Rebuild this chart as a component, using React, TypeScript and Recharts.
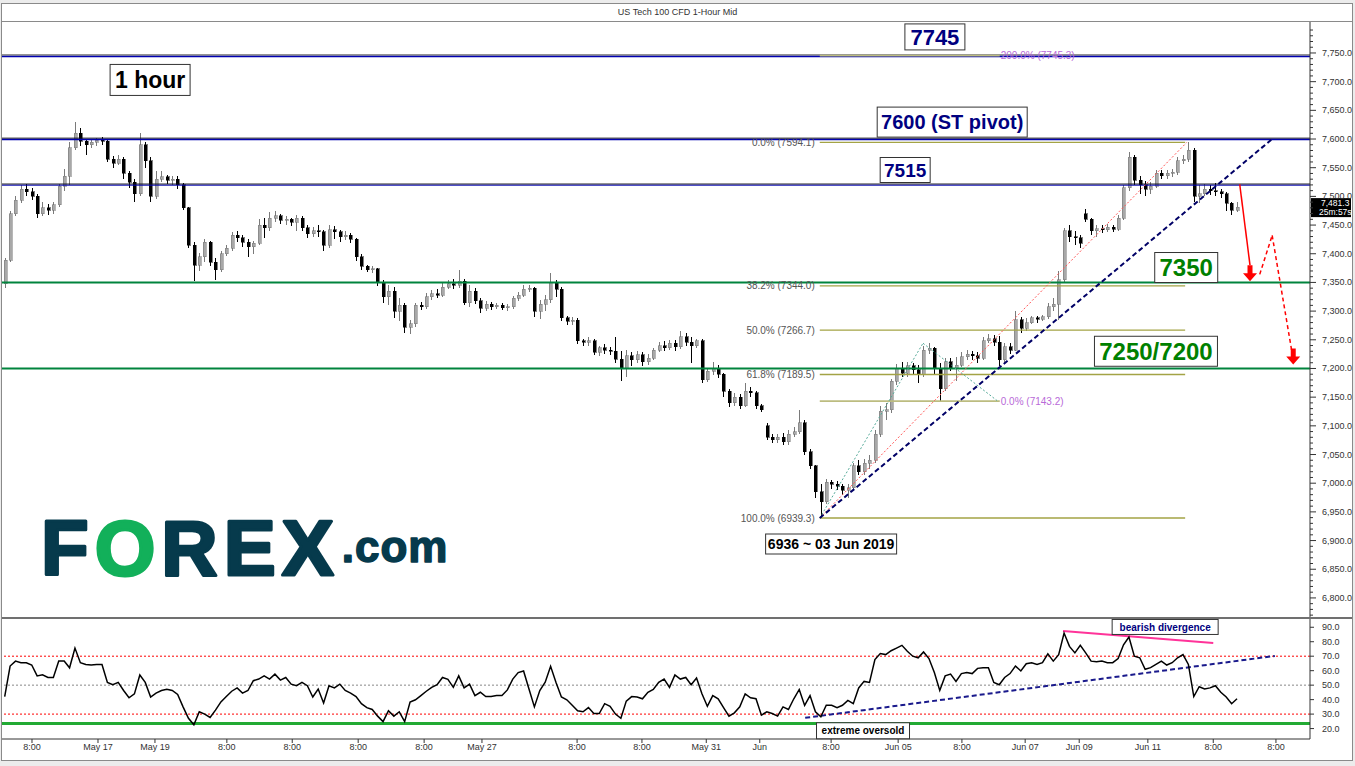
import React from "react";
import {
  ComposedChart,
  Bar,
  Line,
  XAxis,
  YAxis,
  ReferenceLine,
  ReferenceDot,
} from "recharts";

const FONT = "Arial, 'Liberation Sans', sans-serif";

// 2-hour candles: [open, high, low, close]
const candles: number[][] = [
  [7348, 7392, 7340, 7389], [7389, 7475, 7385, 7470], [7470, 7500, 7465, 7493], [7493, 7520, 7488, 7512],
  [7512, 7522, 7500, 7508], [7508, 7515, 7494, 7500], [7500, 7504, 7462, 7470], [7470, 7490, 7466, 7480],
  [7480, 7486, 7468, 7476], [7476, 7490, 7470, 7485], [7485, 7522, 7482, 7518], [7518, 7548, 7510, 7535],
  [7535, 7595, 7520, 7585], [7585, 7630, 7580, 7610], [7610, 7620, 7588, 7596], [7596, 7600, 7572, 7590],
  [7590, 7600, 7585, 7594], [7594, 7602, 7588, 7598], [7598, 7604, 7590, 7596], [7596, 7600, 7560, 7565],
  [7565, 7570, 7550, 7558], [7558, 7572, 7555, 7565], [7565, 7568, 7530, 7540], [7540, 7545, 7515, 7525],
  [7525, 7530, 7490, 7505], [7505, 7610, 7500, 7590], [7590, 7595, 7550, 7562], [7562, 7568, 7490, 7500],
  [7500, 7545, 7496, 7530], [7530, 7545, 7525, 7534], [7534, 7538, 7522, 7528], [7528, 7536, 7520, 7530],
  [7530, 7535, 7512, 7520], [7520, 7524, 7476, 7480], [7480, 7482, 7410, 7415], [7415, 7420, 7352, 7380],
  [7380, 7402, 7370, 7395], [7395, 7425, 7385, 7420], [7420, 7422, 7378, 7385], [7385, 7392, 7354, 7372],
  [7372, 7405, 7368, 7400], [7400, 7415, 7396, 7410], [7410, 7438, 7405, 7432], [7432, 7440, 7420, 7428],
  [7428, 7432, 7412, 7420], [7420, 7425, 7395, 7412], [7412, 7422, 7400, 7418], [7418, 7460, 7415, 7450],
  [7450, 7462, 7428, 7445], [7445, 7472, 7440, 7462], [7462, 7475, 7455, 7466], [7466, 7470, 7452, 7458],
  [7458, 7465, 7450, 7460], [7460, 7462, 7448, 7455], [7455, 7468, 7440, 7462], [7462, 7466, 7440, 7445],
  [7445, 7450, 7428, 7435], [7435, 7446, 7430, 7440], [7440, 7450, 7430, 7438], [7438, 7442, 7405, 7415],
  [7415, 7450, 7410, 7442], [7442, 7448, 7425, 7438], [7438, 7442, 7420, 7430], [7430, 7440, 7424, 7432],
  [7432, 7436, 7418, 7425], [7425, 7428, 7388, 7395], [7395, 7400, 7372, 7378], [7378, 7380, 7368, 7372],
  [7372, 7378, 7366, 7374], [7374, 7376, 7344, 7350], [7350, 7354, 7315, 7325], [7325, 7345, 7310, 7335],
  [7335, 7342, 7288, 7300], [7300, 7322, 7282, 7310], [7310, 7314, 7262, 7272], [7272, 7285, 7260, 7278],
  [7278, 7314, 7272, 7310], [7310, 7316, 7302, 7308], [7308, 7332, 7304, 7325], [7325, 7336, 7320, 7330],
  [7330, 7338, 7322, 7328], [7328, 7350, 7325, 7342], [7342, 7354, 7338, 7348], [7348, 7356, 7338, 7345],
  [7345, 7372, 7340, 7352], [7352, 7356, 7310, 7315], [7315, 7345, 7308, 7335], [7335, 7340, 7312, 7318],
  [7318, 7322, 7296, 7305], [7305, 7318, 7300, 7312], [7312, 7316, 7302, 7308], [7308, 7314, 7303, 7310],
  [7310, 7314, 7302, 7306], [7306, 7313, 7301, 7308], [7308, 7326, 7304, 7322], [7322, 7334, 7318, 7328],
  [7328, 7345, 7325, 7338], [7338, 7346, 7333, 7340], [7340, 7342, 7290, 7300], [7300, 7320, 7286, 7312],
  [7312, 7328, 7300, 7320], [7320, 7366, 7315, 7350], [7350, 7355, 7325, 7338], [7338, 7342, 7282, 7288],
  [7288, 7292, 7275, 7282], [7282, 7290, 7276, 7284], [7284, 7288, 7242, 7248], [7248, 7252, 7240, 7246],
  [7246, 7254, 7240, 7248], [7248, 7252, 7224, 7228], [7228, 7240, 7222, 7236], [7236, 7242, 7225, 7232],
  [7232, 7238, 7224, 7230], [7230, 7254, 7210, 7216], [7216, 7230, 7178, 7200], [7200, 7232, 7185, 7222],
  [7222, 7228, 7205, 7215], [7215, 7230, 7210, 7224], [7224, 7228, 7205, 7212], [7212, 7226, 7206, 7218],
  [7218, 7236, 7214, 7232], [7232, 7246, 7228, 7240], [7240, 7248, 7230, 7236], [7236, 7250, 7232, 7244],
  [7244, 7250, 7230, 7238], [7238, 7265, 7234, 7255], [7255, 7262, 7240, 7246], [7246, 7254, 7210, 7240],
  [7240, 7252, 7236, 7248], [7248, 7252, 7175, 7180], [7180, 7200, 7176, 7195], [7195, 7212, 7188, 7200],
  [7200, 7206, 7184, 7190], [7190, 7192, 7150, 7160], [7160, 7165, 7132, 7140], [7140, 7158, 7135, 7150],
  [7150, 7155, 7130, 7135], [7135, 7175, 7132, 7160], [7160, 7168, 7150, 7158], [7158, 7160, 7130, 7135],
  [7135, 7138, 7124, 7128], [7100, 7105, 7075, 7080], [7080, 7086, 7070, 7076], [7076, 7085, 7070, 7080],
  [7080, 7088, 7066, 7072], [7072, 7092, 7066, 7085], [7085, 7098, 7080, 7090], [7090, 7127, 7086, 7105],
  [7105, 7110, 7050, 7055], [7055, 7060, 7025, 7030], [7030, 7032, 6975, 6985], [6985, 6998, 6939, 6968],
  [6968, 7008, 6964, 7002], [7002, 7006, 6990, 6998], [6998, 7004, 6988, 6995], [6995, 6998, 6980, 6988],
  [6988, 6998, 6975, 6992], [6992, 7036, 6988, 7030], [7030, 7040, 7015, 7020], [7020, 7042, 7015, 7035],
  [7035, 7050, 7025, 7040], [7040, 7092, 7036, 7085], [7085, 7135, 7080, 7125], [7125, 7140, 7110, 7128],
  [7128, 7182, 7122, 7178], [7178, 7208, 7172, 7200], [7200, 7212, 7186, 7192], [7192, 7212, 7186, 7205],
  [7205, 7210, 7190, 7198], [7198, 7206, 7175, 7190], [7190, 7240, 7186, 7232], [7232, 7244, 7225, 7235],
  [7235, 7238, 7190, 7200], [7200, 7210, 7143, 7165], [7165, 7218, 7160, 7212], [7212, 7218, 7195, 7200],
  [7200, 7220, 7178, 7206], [7206, 7228, 7202, 7220], [7220, 7232, 7215, 7225], [7225, 7230, 7214, 7222],
  [7222, 7228, 7210, 7218], [7218, 7255, 7215, 7248], [7248, 7260, 7244, 7252], [7252, 7258, 7240, 7246],
  [7246, 7256, 7205, 7215], [7215, 7244, 7210, 7238], [7238, 7244, 7226, 7232], [7232, 7300, 7230, 7285],
  [7285, 7290, 7262, 7270], [7270, 7288, 7266, 7280], [7280, 7292, 7278, 7288], [7288, 7292, 7280, 7286],
  [7286, 7294, 7282, 7290], [7290, 7315, 7286, 7308], [7308, 7322, 7300, 7312], [7312, 7370, 7285, 7355],
  [7355, 7445, 7350, 7440], [7440, 7450, 7420, 7430], [7430, 7440, 7416, 7428], [7428, 7432, 7410, 7418],
  [7470, 7478, 7455, 7460], [7460, 7462, 7432, 7440], [7440, 7450, 7430, 7444], [7444, 7450, 7436, 7442],
  [7442, 7452, 7438, 7446], [7446, 7450, 7438, 7443], [7443, 7468, 7440, 7462], [7462, 7520, 7458, 7515],
  [7515, 7578, 7510, 7568], [7568, 7572, 7520, 7528], [7528, 7536, 7505, 7520], [7520, 7526, 7500, 7512],
  [7512, 7525, 7505, 7518], [7518, 7546, 7514, 7540], [7540, 7546, 7530, 7536], [7536, 7546, 7530, 7540],
  [7540, 7548, 7534, 7542], [7542, 7568, 7538, 7562], [7562, 7572, 7556, 7565], [7565, 7594, 7560, 7580],
  [7580, 7584, 7490, 7500], [7500, 7520, 7488, 7505], [7505, 7522, 7500, 7512], [7512, 7520, 7502, 7510],
  [7510, 7524, 7500, 7508], [7508, 7512, 7498, 7505], [7505, 7508, 7475, 7488], [7488, 7490, 7468, 7476],
  [7476, 7490, 7472, 7481],
];

const rsi = [
  42, 63.2, 66.6, 65.5, 65.5, 63.9, 56.4, 57.1, 55.3, 55.3,
  66.6, 66.6, 62, 75.6, 65.5, 64.3, 63.9, 64.3, 64.3, 51.9,
  50.3, 51.9, 46.3, 41.3, 44, 57, 51.9, 41.8, 44.5, 46.3,
  47.2, 46.3, 43.6, 35, 27.1, 22.6, 31.6, 30, 27.7, 32.7,
  38.4, 42.1, 45.8, 48.1, 44.5, 46.3, 53.1, 54.2, 56.4, 54.2,
  57.6, 53.5, 55.3, 50.7, 49.6, 51.9, 49.6, 41.8, 47.3, 37.7,
  49.6, 48.1, 50.7, 46.3, 44.5, 42.1, 37.2, 34.5, 33.2, 28.6,
  24.8, 32.3, 28.6, 31.6, 24.8, 38.4, 39.9, 42.8, 45.8, 48.5,
  50.3, 55.3, 54, 48.5, 56.4, 48.1, 50.7, 42.8, 45.1, 42.1,
  42.1, 42.8, 42.8, 46.7, 54.2, 58.7, 59.8, 47.3, 35, 46.3,
  52, 63, 51.9, 41.8, 39.9, 36.1, 32.3, 31.6, 34.5, 30.4,
  30.4, 37.2, 35.4, 30, 27.1, 39, 42.1, 41.8, 40.6, 45.1,
  47, 51.9, 54.2, 48.5, 57, 54.2, 55.3, 50.3, 54.9, 44,
  35.4, 42.8, 40.6, 34.5, 28.6, 30.9, 35, 44, 41.3, 40.6,
  29.3, 31.6, 30.4, 28.6, 35, 33.2, 40.6, 47, 36, 42.8,
  31.6, 28.2, 36.1, 36.1, 34.5, 36.1, 39.5, 37.2, 48.1, 52.6,
  51.9, 67.7, 71.8, 71.1, 73.8, 75.6, 77.5, 73.4, 70, 68.9,
  72.9, 68.4, 58.7, 46.3, 56.4, 57.6, 52.6, 58, 58.7, 58,
  61.6, 62.1, 62.1, 51.9, 50.3, 55.3, 58, 63.2, 59.8, 64.8,
  65.5, 64.3, 65.5, 71.6, 66.6, 71.1, 86, 76.8, 72.3, 77.5,
  72.3, 66.6, 66.2, 66.6, 65.5, 65.5, 68.4, 77.9, 83.3, 70,
  68.9, 61, 62.1, 64.3, 66.6, 63.9, 65.5, 68.9, 71.1, 64.3,
  42.1, 48.9, 47.3, 48.1, 49.6, 45.1, 41.8, 37.2, 40.6,
];

const timeTicks = [5.55, 17.76, 28.3, 41.6, 53.7, 65.9, 78.1, 88.8, 106.4, 118.4, 130.3, 140.2, 153.4, 165.8, 177.6, 189.3, 199.3, 212.0, 224.1, 235.7];
const timeLabels = ["8:00", "May 17", "May 19", "8:00", "8:00", "8:00", "8:00", "May 27", "8:00", "8:00", "May 31", "Jun", "8:00", "Jun 05", "8:00", "Jun 07", "Jun 09", "Jun 11", "8:00", "8:00"];

const priceTicks = Array.from({ length: 103 }, (_, k) => 6770 + k * 10);
const rsiTicks = [20, 30, 40, 50, 60, 70, 80, 90];

const fibLevels = [7594.1, 7344.0, 7266.7, 7189.5, 6939.3];
const fibNames = ["0.0%", "38.2%", "50.0%", "61.8%", "100.0%"];
const extLevels = [7745.3, 7143.2];
const extNames = ["200.0%", "0.0%"];

const lastPrice = 7481.3;

const rows = candles.map((c, i) => ({ t: i + 0.5, o: c[0], h: c[1], l: c[2], c: c[3], rsi: rsi[i] }));

const fmt = (v: number) => v.toLocaleString("en-US", { minimumFractionDigits: 1, maximumFractionDigits: 1 });

function Candle(props: any) {
  const { x, y, width, height, payload } = props;
  if (!payload || x == null) return null;
  const { o, h, l, c } = payload;
  const top = Math.min(y, y + height);
  const span = Math.abs(height);
  const k = span / Math.max(h - l, 0.001);
  const py = (p: number) => top + (h - p) * k;
  const cx = Math.round(x + width / 2) + 0.5;
  const up = c >= o;
  const bTop = py(Math.max(o, c));
  const bH = Math.max(1, Math.abs(py(o) - py(c)));
  return (
    <g shapeRendering="crispEdges">
      <line x1={cx} x2={cx} y1={top} y2={top + span} stroke={up ? "#7a7a7a" : "#000"} />
      <rect x={cx - 1.5} y={bTop} width={3} height={bH} fill={up ? "#a8a8a8" : "#000"} stroke={up ? "#707070" : "#000"} strokeWidth={0.5} />
    </g>
  );
}

function PriceTick(props: any) {
  const { x, y, payload } = props;
  const v = payload.value;
  const major = v % 50 === 0;
  return (
    <g>
      <line x1={x} x2={x + (major ? 6 : 3)} y1={y} y2={y} stroke="#333" />
      {major && (
        <text x={x + 12} y={y} dy={3} fontSize={9} fill="#333" fontFamily={FONT}>
          {fmt(v)}
        </text>
      )}
    </g>
  );
}

function RsiTick(props: any) {
  const { x, y, payload } = props;
  return (
    <g>
      <line x1={x} x2={x + 4} y1={y} y2={y} stroke="#333" />
      <text x={x + 12} y={y} dy={3} fontSize={9} fill="#333" fontFamily={FONT}>
        {fmt(payload.value)}
      </text>
    </g>
  );
}

function TimeTick(props: any) {
  const { x, y, payload } = props;
  const i = timeTicks.indexOf(payload.value);
  return (
    <g>
      <line x1={x} x2={x} y1={y} y2={y + 4} stroke="#333" />
      <text x={x} y={y + 11} textAnchor="middle" fontSize={9} fill="#333" fontFamily={FONT}>
        {timeLabels[i]}
      </text>
    </g>
  );
}

const box = (text: string, w: number, h: number, color: string, fs: number) => (p: any) => (
  <g>
    <rect x={p.cx - w / 2} y={p.cy - h / 2} width={w} height={h} fill="#fff" stroke="#333" strokeWidth={1} />
    <text x={p.cx} y={p.cy} dy={fs * 0.36} textAnchor="middle" fontSize={fs} fontWeight="bold" fill={color} fontFamily={FONT}>
      {text}
    </text>
  </g>
);

const arrowHead = (p: any) => {
  const { cx, cy } = p;
  return (
    <path
      d={`M${cx - 2.5},${cy - 16} L${cx + 2.5},${cy - 16} L${cx + 2.5},${cy - 8} L${cx + 7},${cy - 8} L${cx},${cy} L${cx - 7},${cy - 8} L${cx - 2.5},${cy - 8} Z`}
      fill="#ff0000"
    />
  );
};

const priceTag = (p: any) => {
  const vb = p.viewBox;
  const x = vb.x + vb.width;
  const y = vb.y;
  return (
    <g>
      <rect x={x + 1} y={y - 9} width={40} height={19} fill="#000" />
      <text x={x + 11} y={y - 1} fontSize={8.5} fill="#fff" fontFamily={FONT}>{fmt(lastPrice)}</text>
      <text x={x + 9} y={y + 8} fontSize={8.5} fill="#fff" fontFamily={FONT}>25m:57s</text>
    </g>
  );
};

export default function App() {
  return (
    <div style={{ position: "absolute", left: 0, top: 0, width: 1355, height: 766, background: "#ececec", fontFamily: FONT, overflow: "hidden" }}>
      <div style={{ position: "absolute", left: 1, top: 3, width: 1352, height: 758, background: "#fff", border: "1px solid #8a8a8a", boxSizing: "border-box" }} />
      <div style={{ position: "absolute", left: 0, top: 7, width: 1355, textAlign: "center", fontSize: 9, color: "#333" }}>
        US Tech 100 CFD 1-Hour Mid
      </div>
      <div style={{ position: "absolute", left: 2, top: 21, width: 1350, height: 1, background: "#8a8a8a" }} />

      <div style={{ position: "absolute", left: 2, top: 22 }}>
        <ComposedChart width={1350} height={596} data={rows} margin={{ top: 0, right: 0, left: 0, bottom: 0 }}>
          <XAxis type="number" dataKey="t" domain={[0, 242]} hide />
          <YAxis
            orientation="right"
            width={42}
            domain={[6765, 7804]}
            allowDataOverflow
            ticks={priceTicks}
            interval={0}
            tickSize={0}
            tickMargin={0}
            tick={<PriceTick />}
            axisLine={{ stroke: "#333" }}
          />

          <ReferenceLine y={7746.5} stroke="#333" strokeWidth={1} />
          <ReferenceLine y={7744} stroke="#0000b0" strokeWidth={1.5} />
          <ReferenceLine y={7601.5} stroke="#111" strokeWidth={1} />
          <ReferenceLine y={7599} stroke="#0000b0" strokeWidth={1.5} />
          <ReferenceLine y={7521.5} stroke="#111" strokeWidth={1} />
          <ReferenceLine y={7519.5} stroke="#0000b0" strokeWidth={1} />
          <ReferenceLine y={7350} stroke="#00843d" strokeWidth={2} />
          <ReferenceLine y={7200} stroke="#00843d" strokeWidth={2} />

          {fibLevels.map((v, i) => (
            <ReferenceLine
              key={"f" + i}
              segment={[{ x: 151.3, y: v }, { x: 218.9, y: v }]}
              stroke="#a3a345"
              strokeWidth={1.3}
              label={{ value: `${fibNames[i]} (${v.toFixed(1)})`, position: "left", fill: "#555", fontSize: 10, fontFamily: FONT }}
            />
          ))}
          {extLevels.map((v, i) => (
            <ReferenceLine
              key={"e" + i}
              segment={[{ x: 151.3, y: v }, { x: 184.6, y: v }]}
              stroke="#bcbc80"
              strokeWidth={1.8}
              label={{ value: `${extNames[i]} (${v.toFixed(1)})`, position: "right", offset: 1, fill: "#b86ad8", fontSize: 10, fontFamily: FONT }}
            />
          ))}

          <ReferenceLine segment={[{ x: 151.3, y: 6939.3 }, { x: 170.4, y: 7244 }]} stroke="#55aa99" strokeDasharray="2 2" />
          <ReferenceLine segment={[{ x: 170.4, y: 7244 }, { x: 184.1, y: 7144 }]} stroke="#55aa99" strokeDasharray="2 2" />
          <ReferenceLine segment={[{ x: 151.3, y: 6939.3 }, { x: 219.2, y: 7594.1 }]} stroke="#ff5555" strokeDasharray="2 2" />
          <ReferenceLine segment={[{ x: 151.3, y: 6939.3 }, { x: 235, y: 7600 }]} stroke="#000066" strokeWidth={2} strokeDasharray="5 3" />

          <Bar dataKey={(d: any) => [d.l, d.h]} barSize={3} shape={(p: any) => <Candle {...p} />} isAnimationActive={false} />

          <ReferenceLine segment={[{ x: 229.0, y: 7521 }, { x: 230.9, y: 7380 }]} stroke="#ff0000" strokeWidth={1.5} />
          <ReferenceLine segment={[{ x: 232.7, y: 7364 }, { x: 235.0, y: 7432 }]} stroke="#ff0000" strokeWidth={1.5} strokeDasharray="4 3" />
          <ReferenceLine segment={[{ x: 235.0, y: 7432 }, { x: 238.6, y: 7232 }]} stroke="#ff0000" strokeWidth={1.5} strokeDasharray="4 3" />
          <ReferenceDot x={230.9} y={7352} r={0} shape={arrowHead} ifOverflow="visible" />
          <ReferenceDot x={238.9} y={7207} r={0} shape={arrowHead} ifOverflow="visible" />

          <ReferenceDot x={27.4} y={7703} r={0} ifOverflow="visible" shape={box("1 hour", 80, 31, "#000", 23)} />
          <ReferenceDot x={172.6} y={7778} r={0} ifOverflow="visible" shape={box("7745", 60, 26, "#000080", 22)} />
          <ReferenceDot x={175.8} y={7629.5} r={0} ifOverflow="visible" shape={box("7600 (ST pivot)", 150, 30, "#000080", 20)} />
          <ReferenceDot x={167.1} y={7546} r={0} ifOverflow="visible" shape={box("7515", 50, 25, "#000080", 19)} />
          <ReferenceDot x={219.1} y={7376} r={0} ifOverflow="visible" shape={box("7350", 63, 30, "#008000", 24)} />
          <ReferenceDot x={213.5} y={7230} r={0} ifOverflow="visible" shape={box("7250/7200", 123, 30, "#008000", 24)} />
          <ReferenceDot x={153.4} y={6894} r={0} ifOverflow="visible" shape={box("6936 ~ 03 Jun 2019", 131, 20, "#000", 14)} />

          <ReferenceLine y={lastPrice} stroke="none" label={priceTag} />
        </ComposedChart>
      </div>

      <div style={{ position: "absolute", left: 2, top: 617, width: 1350, height: 2, background: "#707070" }} />

      <div style={{ position: "absolute", left: 2, top: 619 }}>
        <ComposedChart width={1350} height={141} data={rows} margin={{ top: 0, right: 0, left: 0, bottom: 0 }}>
          <XAxis
            type="number"
            dataKey="t"
            domain={[0, 242]}
            ticks={timeTicks}
            interval={0}
            height={21}
            tickSize={0}
            tickMargin={0}
            tick={<TimeTick />}
            axisLine={{ stroke: "#333" }}
          />
          <YAxis
            orientation="right"
            width={42}
            domain={[12.8, 95.7]}
            allowDataOverflow
            ticks={rsiTicks}
            interval={0}
            tickSize={0}
            tickMargin={0}
            tick={<RsiTick />}
            axisLine={{ stroke: "#333" }}
          />
          <ReferenceLine y={70} stroke="#ff0000" strokeDasharray="2 2" />
          <ReferenceLine y={30} stroke="#ff0000" strokeDasharray="2 2" />
          <ReferenceLine y={50} stroke="#888" strokeDasharray="2 2" />
          <ReferenceLine y={23.5} stroke="#22aa33" strokeWidth={3} />
          <ReferenceLine segment={[{ x: 148.6, y: 27.4 }, { x: 235.5, y: 70.2 }]} stroke="#1a1a8c" strokeWidth={2} strokeDasharray="5 3" />
          <ReferenceLine segment={[{ x: 196.3, y: 87.4 }, { x: 224.1, y: 79.2 }]} stroke="#ff3399" strokeWidth={2} />
          <Line type="linear" dataKey="rsi" stroke="#000" strokeWidth={1.5} dot={false} isAnimationActive={false} />
          <ReferenceDot x={215.2} y={90.2} r={0} ifOverflow="visible" shape={box("bearish divergence", 106, 15, "#000080", 10)} />
          <ReferenceDot x={159.3} y={18.5} r={0} ifOverflow="visible" shape={box("extreme oversold", 93, 16, "#000", 10)} />
        </ComposedChart>
      </div>

      <svg style={{ position: "absolute", left: 0, top: 0, pointerEvents: "none" }} width={1355} height={766}>
        <text x={41} y={575} fontSize={78} fontWeight="bold" fontFamily={FONT} letterSpacing={6} stroke="#063a4c" strokeWidth={3} strokeLinejoin="round">
          <tspan fill="#063a4c">F</tspan>
          <tspan fill="#12b05a" stroke="#12b05a">O</tspan>
          <tspan fill="#063a4c">REX</tspan>
          <tspan fill="#063a4c" fontSize={44} dx={2} dy={-13} letterSpacing={1} strokeWidth={1.5}>.com</tspan>
        </text>
      </svg>
    </div>
  );
}
